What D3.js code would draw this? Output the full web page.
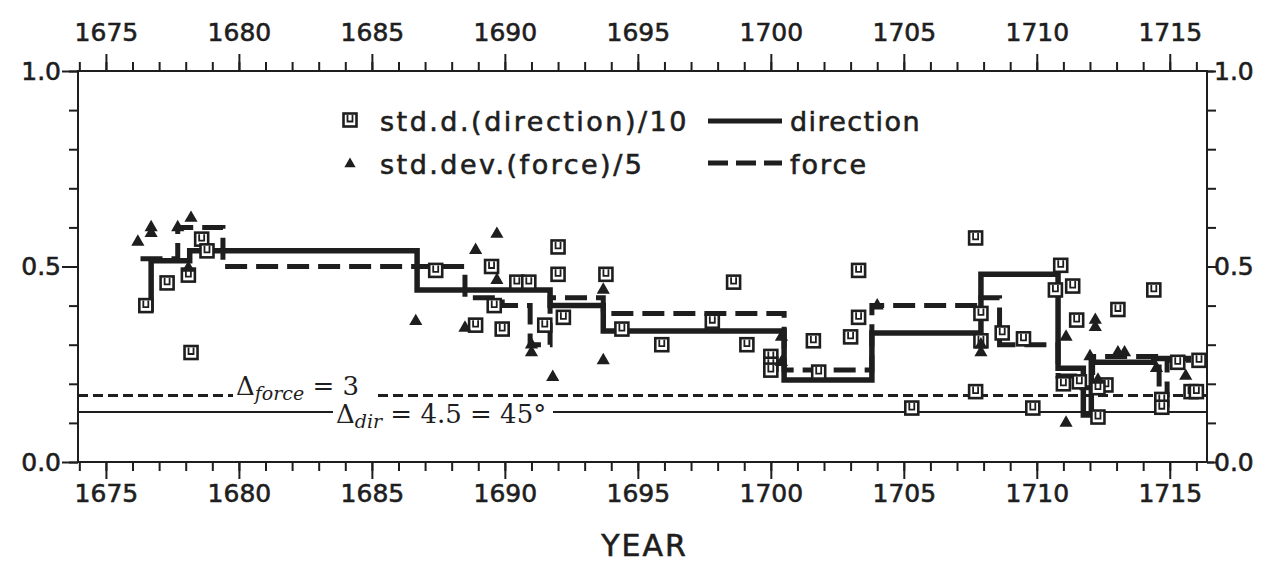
<!DOCTYPE html>
<html>
<head>
<meta charset="utf-8">
<script src="https://cdn.jsdelivr.net/npm/d3@7"></script>
<style>
  body { margin: 0; background: #fff; }
  svg { display: block; }
</style>
</head>
<body>
<svg id="chart" width="1273" height="572"></svg>
<script>
// step line for std of direction (start years, value for each interval, last year = end)
var dirYears = [1676.3, 1676.7, 1678.15, 1686.7, 1691.7, 1693.7, 1700.5, 1703.8, 1707.9, 1710.8, 1711.75, 1712.05, 1714.4, 1715.8]
var dirVals  = [0.39, 0.515, 0.54, 0.44, 0.40, 0.335, 0.21, 0.33, 0.48, 0.24, 0.12, 0.255, 0.265]

// step line for std of force
var forceYears = [1676.3, 1677.7, 1679.4, 1688.5, 1689.9, 1690.95, 1691.7, 1693.7, 1700.5, 1703.8, 1707.8, 1708.6, 1710.8, 1711.7, 1712.1, 1714.6, 1714.9, 1715.8]
var forceVals  = [0.52, 0.60, 0.50, 0.42, 0.40, 0.30, 0.42, 0.38, 0.235, 0.40, 0.42, 0.30, 0.22, 0.19, 0.27, 0.17, 0.26]

// std.d.(direction)/10 points
var sqYears = [1676.5, 1677.3, 1678.1, 1678.6, 1678.8, 1678.2, 1687.4,
  1688.9, 1689.9, 1689.5, 1690.45, 1690.9, 1689.6, 1691.5, 1692.0, 1692.0, 1692.2,
  1693.8, 1694.4, 1695.9, 1697.8, 1698.6, 1699.1, 1700.0, 1700.0, 1700.0, 1701.6, 1701.8, 1703.0, 1703.3, 1703.3,
  1705.3, 1707.7, 1707.9, 1707.9, 1707.7, 1708.7, 1709.5, 1709.85,
  1710.9, 1711.35, 1710.7, 1713.05, 1711.5, 1711.0, 1711.6, 1712.6, 1712.3, 1712.3,
  1714.4, 1715.3, 1716.1, 1714.7, 1714.7, 1715.8, 1716.0]
var sqVals = [0.40, 0.458, 0.478, 0.57, 0.54, 0.28, 0.49,
  0.35, 0.34, 0.50, 0.46, 0.46, 0.40, 0.35, 0.55, 0.48, 0.37,
  0.48, 0.34, 0.30, 0.36, 0.46, 0.30, 0.27, 0.25, 0.235, 0.31, 0.23, 0.32, 0.49, 0.37,
  0.138, 0.573, 0.38, 0.31, 0.18, 0.33, 0.315, 0.138,
  0.503, 0.45, 0.44, 0.39, 0.363, 0.20, 0.205, 0.197, 0.115, 0.19,
  0.44, 0.255, 0.26, 0.16, 0.14, 0.18, 0.18]

// std.dev.(force)/5 points
var triYears = [1676.2, 1676.7, 1676.7, 1677.7, 1678.2, 1678.1,
  1686.65, 1688.5, 1688.9, 1689.7, 1689.7, 1691.0, 1691.0, 1691.8,
  1693.7, 1693.7, 1700.4, 1700.4, 1704.0, 1707.9, 1707.9,
  1711.1, 1711.1, 1712.2, 1712.2, 1712.0, 1713.05, 1713.3, 1714.5, 1715.6, 1712.3]
var triVals = [0.563, 0.60, 0.585, 0.60, 0.624, 0.496,
  0.36, 0.343, 0.542, 0.583, 0.465, 0.30, 0.28, 0.217,
  0.44, 0.26, 0.32, 0.255, 0.40, 0.28, 0.30,
  0.32, 0.10, 0.363, 0.345, 0.27, 0.28, 0.28, 0.24, 0.22, 0.21]

// threshold lines
var limForce = 0.17
var limDir = 0.128

var xMajor = [1675, 1680, 1685, 1690, 1695, 1700, 1705, 1710, 1715]
var xMinor = d3.range(1674, 1717)
var yMajor = [0, 0.5, 1]
var yMinor = d3.range(0, 1.01, 0.1)

var svg = d3.select('#chart')
var pLeft = 78, pRight = 1207, pTop = 71, pBottom = 462

var x = d3.scaleLinear().domain([1673.95, 1716.4]).range([pLeft, pRight])
var y = d3.scaleLinear().domain([0, 1]).range([pBottom, pTop])

var labelFont = '"DejaVu Sans", sans-serif'
var serifFont = '"DejaVu Serif", "Liberation Serif", serif'
var ink = '#1e1e1e'

// axes
function styleAxis(g){
  g.select('.domain').remove()
  g.selectAll('line').attr('stroke', ink).attr('stroke-width', 2)
  g.selectAll('text').attr('font-family', labelFont).attr('font-size', 25).attr('fill', ink)
    .attr('stroke', ink).attr('stroke-width', 0.6)
}

svg.append('g').attr('transform', 'translate(0,' + pTop + ')')
  .call(d3.axisTop(x).tickValues(xMinor).tickSize(9).tickFormat(''))
  .call(styleAxis)
svg.append('g').attr('transform', 'translate(0,' + pTop + ')')
  .call(d3.axisTop(x).tickValues(xMajor).tickSize(17).tickPadding(13).tickFormat(d3.format('d')))
  .call(styleAxis)
svg.append('g').attr('transform', 'translate(0,' + pBottom + ')')
  .call(d3.axisBottom(x).tickValues(xMinor).tickSize(9).tickFormat(''))
  .call(styleAxis)
svg.append('g').attr('transform', 'translate(0,' + pBottom + ')')
  .call(d3.axisBottom(x).tickValues(xMajor).tickSize(17).tickPadding(5).tickFormat(d3.format('d')))
  .call(styleAxis)

svg.append('g').attr('transform', 'translate(' + pLeft + ',0)')
  .call(d3.axisLeft(y).tickValues(yMinor).tickSize(9).tickFormat(''))
  .call(styleAxis)
svg.append('g').attr('transform', 'translate(' + pLeft + ',0)')
  .call(d3.axisLeft(y).tickValues(yMajor).tickSize(16).tickPadding(1).tickFormat(d3.format('.1f')))
  .call(styleAxis)
svg.append('g').attr('transform', 'translate(' + pRight + ',0)')
  .call(d3.axisRight(y).tickValues(yMinor).tickSize(9).tickFormat(''))
  .call(styleAxis)
svg.append('g').attr('transform', 'translate(' + pRight + ',0)')
  .call(d3.axisRight(y).tickValues(yMajor).tickSize(7).tickPadding(0).tickFormat(d3.format('.1f')))
  .call(styleAxis)

// frame
svg.append('rect')
  .attr('x', pLeft).attr('y', pTop)
  .attr('width', pRight - pLeft).attr('height', pBottom - pTop)
  .style('fill', 'none').style('stroke', ink).style('stroke-width', 2)

svg.append('text')
  .text('YEAR')
  .attr('x', (pLeft + pRight) / 2 + 2).attr('y', 556)
  .attr('text-anchor', 'middle')
  .style('font-family', labelFont).style('font-size', '30px').style('letter-spacing', '2px')
  .style('fill', ink).style('stroke', ink).style('stroke-width', 0.6)

// threshold lines
svg.append('line')
  .attr('x1', pLeft).attr('x2', pRight)
  .attr('y1', y(limForce)).attr('y2', y(limForce))
  .style('stroke', ink).style('stroke-width', 3).style('stroke-dasharray', '10 5')
svg.append('line')
  .attr('x1', pLeft).attr('x2', pRight)
  .attr('y1', y(limDir)).attr('y2', y(limDir))
  .style('stroke', ink).style('stroke-width', 2)

// annotation texts with white boxes over the lines
function annot(px, py, main, sub, rest, w, h){
  svg.append('rect').attr('x', px - 3).attr('y', py - 19).attr('width', w).attr('height', h).style('fill', '#fff')
  var t = svg.append('text').attr('x', px).attr('y', py)
    .style('font-family', serifFont).style('font-size', '26px').style('fill', ink)
  t.append('tspan').text(main)
  t.append('tspan').text(sub).attr('dy', 5).style('font-style', 'italic').style('font-size', '19px')
  t.append('tspan').text(rest).attr('dy', -5)
}
annot(236, 395, 'Δ', 'force', ' = 3', 140, 22)
annot(336, 423, 'Δ', 'dir', ' = 4.5 = 45°', 220, 26)

// step lines
var step = d3.line()
  .x(function(d){ return x(d[0]) })
  .y(function(d){ return y(d[1]) })
  .curve(d3.curveStepAfter)

function stepPts(years, vals){
  return years.map(function(t, i){
    return [t, i < vals.length ? vals[i] : vals[vals.length - 1]]
  })
}

svg.append('path')
  .datum(stepPts(forceYears, forceVals))
  .attr('d', step)
  .style('fill', 'none').style('stroke', ink).style('stroke-width', 5)
  .style('stroke-dasharray', '22 9')

svg.append('path')
  .datum(stepPts(dirYears, dirVals))
  .attr('d', step)
  .style('fill', 'none').style('stroke', ink).style('stroke-width', 5.5)

// markers
var squares = sqYears.map(function(t, i){ return [t, sqVals[i]] })
var tris = triYears.map(function(t, i){ return [t, triVals[i]] })

function drawSquare(g){
  g.append('rect').attr('x', -6.5).attr('y', -6.5).attr('width', 13).attr('height', 13)
    .style('fill', '#fff').style('stroke', ink).style('stroke-width', 2.6)
  g.append('path').attr('d', 'M-2.5,-5V1.5H2.5V-5')
    .style('fill', 'none').style('stroke', ink).style('stroke-width', 1.8)
}

svg.selectAll('.sq')
  .data(squares)
  .enter()
  .append('g')
  .attr('class', 'sq')
  .attr('transform', function(d){ return 'translate(' + x(d[0]) + ',' + y(d[1]) + ')' })
  .each(function(){ drawSquare(d3.select(this)) })

var tri = d3.symbol().type(d3.symbolTriangle).size(75)
svg.selectAll('.tri')
  .data(tris)
  .enter()
  .append('path')
  .attr('class', 'tri')
  .attr('d', tri)
  .attr('transform', function(d){ return 'translate(' + x(d[0]) + ',' + y(d[1]) + ')' })
  .style('fill', ink)

// legend
var legend = svg.append('g')
drawSquare(legend.append('g').attr('transform', 'translate(350,120)'))
legend.append('path').attr('d', d3.symbol().type(d3.symbolTriangle).size(55)).attr('transform', 'translate(350,164)').style('fill', ink)

function legendText(txt, px, py, ls){
  legend.append('text').text(txt).attr('x', px).attr('y', py)
    .style('font-family', labelFont).style('font-size', '27px').style('letter-spacing', ls + 'px')
    .style('fill', ink).style('stroke', ink).style('stroke-width', 0.6)
}
legendText('std.d.(direction)/10', 380, 131, 2.5)
legendText('std.dev.(force)/5', 380, 174, 2.5)
legendText('direction', 790, 131, 1.4)
legendText('force', 790, 174, 2)

legend.append('line').attr('x1', 708).attr('x2', 782).attr('y1', 121).attr('y2', 121)
  .style('stroke', ink).style('stroke-width', 5)
legend.append('line').attr('x1', 708).attr('x2', 782).attr('y1', 163).attr('y2', 163)
  .style('stroke', ink).style('stroke-width', 5).style('stroke-dasharray', '20 8')
</script>
</body>
</html>
